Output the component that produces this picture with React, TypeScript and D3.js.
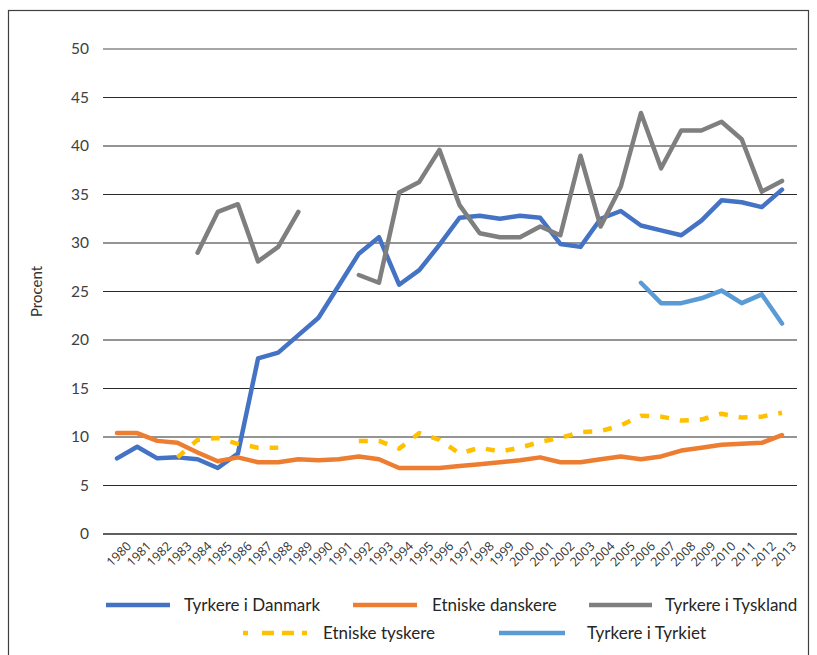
import React from "react";
import * as d3 from "d3";

const years: string[] = [
  "1980","1981","1982","1983","1984","1985","1986","1987","1988","1989",
  "1990","1991","1992","1993","1994","1995","1996","1997","1998","1999",
  "2000","2001","2002","2003","2004","2005","2006","2007","2008","2009",
  "2010","2011","2012","2013",
];

type V = number | null;

const tyrkereDanmark: V[] = [
  7.8, 9.0, 7.8, 7.9, 7.7, 6.8, 8.3, 18.1, 18.7, 20.5,
  22.3, 25.6, 28.9, 30.6, 25.7, 27.2, 29.8, 32.6, 32.8, 32.5,
  32.8, 32.6, 29.9, 29.6, 32.5, 33.3, 31.8, 31.3, 30.8, 32.3,
  34.4, 34.2, 33.7, 35.5,
];

const etniskeDanskere: V[] = [
  10.4, 10.4, 9.6, 9.4, 8.4, 7.5, 7.9, 7.4, 7.4, 7.7,
  7.6, 7.7, 8.0, 7.7, 6.8, 6.8, 6.8, 7.0, 7.2, 7.4,
  7.6, 7.9, 7.4, 7.4, 7.7, 8.0, 7.7, 8.0, 8.6, 8.9,
  9.2, 9.3, 9.4, 10.2,
];

const tyrkereTyskland: V[] = [
  null, null, null, null, 29.0, 33.2, 34.0, 28.1, 29.6, 33.2,
  null, null, 26.7, 25.9, 35.2, 36.3, 39.6, 33.9, 31.0, 30.6,
  30.6, 31.7, 30.8, 39.0, 31.7, 35.8, 43.4, 37.7, 41.6, 41.6,
  42.5, 40.7, 35.3, 36.4,
];

const etniskeTyskere: V[] = [
  null, null, null, 7.9, 9.7, 9.9, 9.3, 8.9, 8.9, null,
  null, null, 9.6, 9.6, 8.8, 10.4, 9.7, 8.3, 8.9, 8.5,
  8.9, 9.5, 9.9, 10.5, 10.6, 11.2, 12.2, 12.1, 11.7, 11.8,
  12.4, 12.0, 12.1, 12.5,
];

const tyrkereTyrkiet: V[] = [
  null, null, null, null, null, null, null, null, null, null,
  null, null, null, null, null, null, null, null, null, null,
  null, null, null, null, null, null, 25.9, 23.8, 23.8, 24.3,
  25.1, 23.8, 24.7, 21.7,
];

const yTicks: number[] = [0, 5, 10, 15, 20, 25, 30, 35, 40, 45, 50];

const seriesNames: string[] = [
  "Tyrkere i Danmark",
  "Etniske danskere",
  "Tyrkere i Tyskland",
  "Etniske tyskere",
  "Tyrkere i Tyrkiet",
];
const seriesValues: V[][] = [
  tyrkereDanmark,
  etniskeDanskere,
  tyrkereTyskland,
  etniskeTyskere,
  tyrkereTyrkiet,
];
const seriesColors: string[] = ["#4472C4", "#ED7D31", "#7F7F7F", "#FFC000", "#5B9BD5"];
const seriesDash: (string | undefined)[] = [undefined, undefined, undefined, "9 11", undefined];

// legend layout: [sampleX1, sampleX2, textX, y]
const legendPos: number[][] = [
  [106, 170, 184, 605],
  [353, 417, 432, 605],
  [589, 652, 665, 605],
  [243, 307, 323, 633],
  [499, 565, 587, 633],
];

const W = 817;
const H = 655;
const plotLeft = 103;
const plotRight = 797;
const yTop = 49;
const yBottom = 534;

export default function App() {
  const x = d3.scalePoint<string>().domain(years).range([117, 782]);
  const y = d3.scaleLinear().domain([0, 50]).range([yBottom, yTop]);

  const line = d3
    .line<V>()
    .defined((d) => d !== null)
    .x((_, i) => x(years[i]) as number)
    .y((d) => y(d as number));

  const order = [0, 1, 2, 3, 4];

  return (
    <svg
      width={W}
      height={H}
      style={{ position: "absolute", left: 0, top: 0, display: "block", background: "#fff" }}
    >
      <rect x={0} y={0} width={W} height={H} fill="#fff" />
      <rect x={8.5} y={10.5} width={800} height={700} fill="none" stroke="#404040" strokeWidth={1.2} />

      {yTicks.map((t) =>
        t === 0 ? null : (
          <line
            key={"g" + t}
            x1={plotLeft}
            x2={plotRight}
            y1={y(t)}
            y2={y(t)}
            stroke={t === 50 ? "#888" : "#2a2a2a"}
            strokeWidth={t === 50 ? 1.6 : 1.1}
          />
        )
      )}
      <line x1={plotLeft} x2={plotRight} y1={y(0)} y2={y(0)} stroke="#2a2a2a" strokeWidth={1.3} />

      {yTicks.map((t) => (
        <text
          key={"yt" + t}
          x={89}
          y={y(t)}
          dy="0.35em"
          textAnchor="end"
          fontFamily="Lato, 'Open Sans', sans-serif"
          fontSize={15.5}
          fill="#404040"
        >
          {t}
        </text>
      ))}

      <text
        transform={`translate(42, ${(yTop + yBottom) / 2}) rotate(-90)`}
        textAnchor="middle"
        fontFamily="Lato, 'Open Sans', sans-serif"
        fontSize={15}
        fill="#333"
      >
        Procent
      </text>

      {years.map((yr) => (
        <text
          key={"xt" + yr}
          transform={`translate(${(x(yr) as number) + 15}, 547) rotate(-45)`}
          textAnchor="end"
          fontFamily="'Open Sans', sans-serif"
          fontSize={12.5}
          fill="#333"
        >
          {yr}
        </text>
      ))}

      {order.map((i) => (
        <path
          key={"s" + i}
          d={line(seriesValues[i]) || ""}
          fill="none"
          stroke={seriesColors[i]}
          strokeWidth={4.5}
          strokeLinejoin="round"
          strokeLinecap={seriesDash[i] ? "butt" : "round"}
          strokeDasharray={seriesDash[i]}
        />
      ))}

      {seriesNames.map((name, i) => {
        const [x1, x2, tx, ly] = legendPos[i];
        return (
          <g key={"lg" + i}>
            <line
              x1={x1}
              x2={x2}
              y1={ly}
              y2={ly}
              stroke={seriesColors[i]}
              strokeWidth={4.5}
              strokeDasharray={seriesDash[i] ? "5 14 12 8 12 8 5" : undefined}
            />
            <text
              x={tx}
              y={ly}
              dy="0.35em"
              fontFamily="Lato, 'Open Sans', sans-serif"
              fontSize={17}
              fill="#262626"
            >
              {name}
            </text>
          </g>
        );
      })}
    </svg>
  );
}
